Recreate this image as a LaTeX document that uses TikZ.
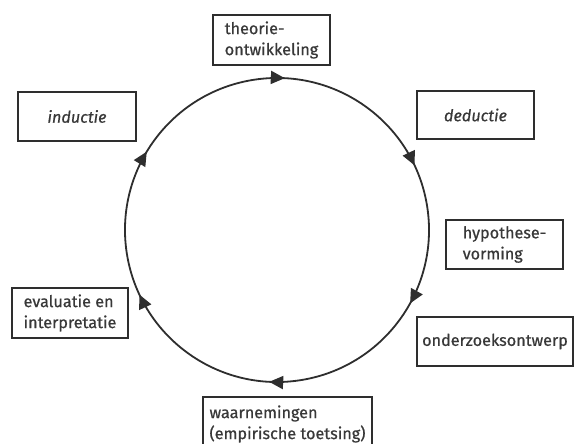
\documentclass[tikz,border=0pt]{standalone}
\usepackage{fontspec}
\setmainfont{Fira Sans}[FakeBold=0.6]
\usetikzlibrary{arrows.meta,decorations.markings}
\definecolor{ink}{HTML}{2E2E2E}
\definecolor{txt}{HTML}{383838}
\tikzset{
  stagebox/.style={draw=ink, line width=1.8pt, rectangle, inner sep=0pt,
    text=txt, align=left, font=\fontsize{16.2}{21}\selectfont},
  cycleline/.style={draw=ink, line width=1.8pt},
}
\pgfkeys{/pgf/decoration/cyctip/.style={mark=at position #1 with {\arrow[ink]{Triangle[length=14pt,width=13pt]}}}}
\begin{document}
\begin{tikzpicture}[x=1pt,y=-1pt]
  \useasboundingbox (0,0) rectangle (574,444);
  \clip (0,0) rectangle (574,444);
  \fill[white] (0,0) rectangle (574,444);
  % the research cycle, running clockwise on the page (y axis points down)
  \coordinate (c) at (277,230);
  \draw[cycleline, postaction={decorate}, decoration={markings,
      cyctip=0.036, cyctip=0.208, cyctip=0.358, cyctip=0.536, cyctip=0.708, cyctip=0.864}]
    (c) ++(-100:152) arc[start angle=-100, end angle=260, radius=152];
  % stages of the cycle
  \node[stagebox, minimum width=117, minimum height=50] (theorie) at (271.5,40) {theorie-\\ontwikkeling};
  \node[stagebox, minimum width=118, minimum height=49] (inductie) at (77,116.5) {\itshape inductie};
  \node[stagebox, minimum width=117, minimum height=48] (deductie) at (475.5,115) {\itshape deductie};
  \node[stagebox, minimum width=117, minimum height=49] (hypothese) at (504.5,244.5) {hypothese-\\vorming};
  \node[stagebox, minimum width=156, minimum height=49] (ontwerp) at (495,341.5) {onderzoeksontwerp};
  \node[stagebox, minimum width=116, minimum height=50] (evaluatie) at (70,313) {evaluatie en\\interpretatie};
  \node[stagebox, minimum width=169, minimum height=54] (waarnemingen) at (287.5,424) {waarnemingen\\(empirische toetsing)};
\end{tikzpicture}
\end{document}
